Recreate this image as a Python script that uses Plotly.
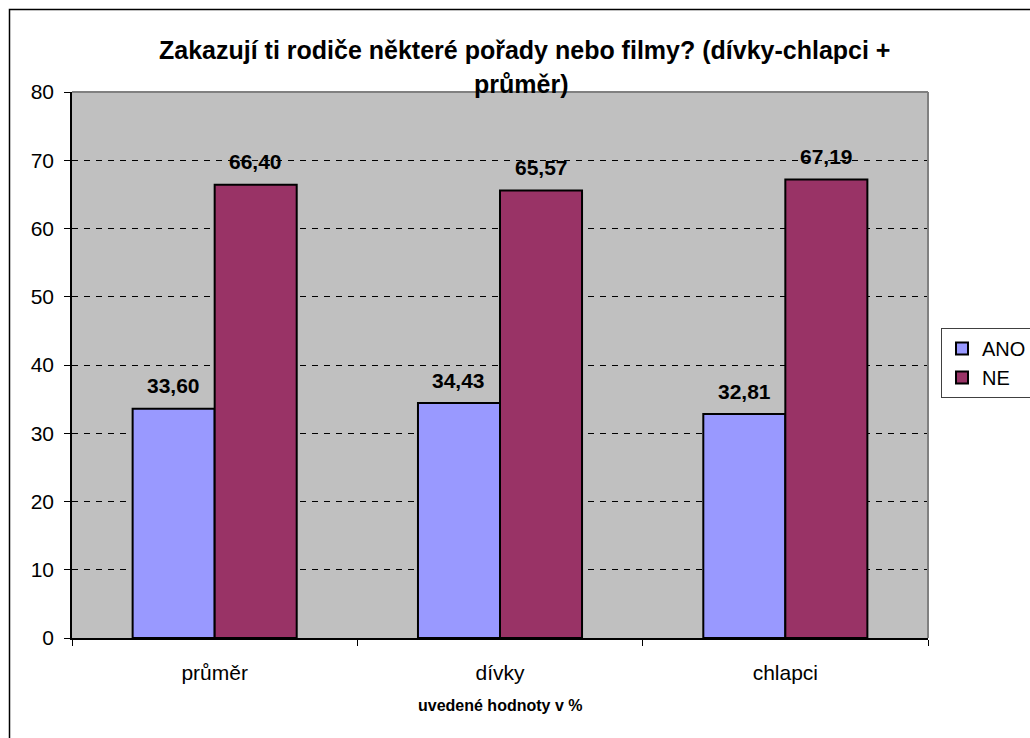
import plotly.graph_objects as go

categories = ["průměr", "dívky", "chlapci"]
ano_values = [33.60, 34.43, 32.81]
ne_values = [66.40, 65.57, 67.19]
series_names = ["ANO", "NE"]
y_ticks = [0, 10, 20, 30, 40, 50, 60, 70, 80]

title_line1 = "Zakazují ti rodiče některé pořady nebo filmy? (dívky-chlapci +"
title_line2 = "průměr)"
x_title = "uvedené hodnoty v %"

FONT = "Liberation Sans, Arial, sans-serif"
W, H = 1030, 738
L, R, T, B = 72, 102, 92, 100
pw, ph = W - L - R, H - T - B
BARGAP = 0.425

fig = go.Figure()
fig.add_trace(go.Bar(x=categories, y=ano_values, name=series_names[0],
                     marker=dict(color="#9999FF", line=dict(color="black", width=2))))
fig.add_trace(go.Bar(x=categories, y=ne_values, name=series_names[1],
                     marker=dict(color="#993366", line=dict(color="black", width=2))))

annotations = []
half = (1 - BARGAP) / 4
for i, trace_vals in enumerate([ano_values, ne_values]):
    for j, v in enumerate(trace_vals):
        annotations.append(dict(
            x=j + (-half if i == 0 else half), y=v, xref="x", yref="y",
            text=f"{v:.2f}".replace(".", ","), showarrow=False, yshift=23,
            font=dict(family=FONT, size=21, color="black", weight="bold")))

def px_to_paper_x(px):
    return (px - L) / pw

def px_to_paper_y(py):
    return (H - B - py) / ph

annotations.append(dict(xref="paper", yref="paper", x=px_to_paper_x(524), y=px_to_paper_y(50),
                        text=title_line1, showarrow=False, xanchor="center", yanchor="middle",
                        font=dict(family=FONT, size=25, color="black", weight="bold")))
annotations.append(dict(xref="paper", yref="paper", x=px_to_paper_x(521), y=px_to_paper_y(84),
                        text=title_line2, showarrow=False, xanchor="center", yanchor="middle",
                        font=dict(family=FONT, size=25, color="black", weight="bold")))
annotations.append(dict(xref="paper", yref="paper", x=px_to_paper_x(500), y=px_to_paper_y(705),
                        text=x_title, showarrow=False, xanchor="center", yanchor="middle",
                        font=dict(family=FONT, size=16, color="black", weight="bold")))

shapes = [
    dict(type="line", xref="paper", yref="paper", x0=0, x1=1, y0=1, y1=1,
         line=dict(color="#808080", width=2), layer="above"),
    dict(type="line", xref="paper", yref="paper", x0=1, x1=1, y0=0, y1=1,
         line=dict(color="#808080", width=2), layer="above"),
    dict(type="rect", xref="paper", yref="paper",
         x0=px_to_paper_x(9.5), y0=px_to_paper_y(800), x1=px_to_paper_x(1100), y1=px_to_paper_y(9.5),
         line=dict(color="black", width=1.5), layer="above"),
]

fig.update_layout(
    width=W, height=H,
    margin=dict(l=L, r=R, t=T, b=B, autoexpand=False),
    paper_bgcolor="white", plot_bgcolor="#C0C0C0",
    barmode="group", bargap=BARGAP, bargroupgap=0,
    font=dict(family=FONT, size=21, color="black"),
    showlegend=True,
    legend=dict(x=px_to_paper_x(941), y=px_to_paper_y(328), xanchor="left", yanchor="top",
                bgcolor="white", bordercolor="#404040", borderwidth=1,
                font=dict(family=FONT, size=20, color="black"),
                itemwidth=30, tracegroupgap=0),
    annotations=annotations, shapes=shapes,
)
fig.update_xaxes(showline=True, linecolor="black", linewidth=1.5, ticks="outside",
                 tickson="boundaries", ticklen=6, tickcolor="black", showgrid=False,
                 tickfont=dict(family=FONT, size=21), ticklabelstandoff=15)
fig.update_yaxes(range=[0, 80], tickvals=y_ticks, showline=True, linecolor="black", linewidth=1.5,
                 ticks="outside", ticklen=6, tickcolor="black",
                 showgrid=True, gridcolor="black", gridwidth=1, griddash="6px,6px",
                 zeroline=False, tickfont=dict(family=FONT, size=21), ticklabelstandoff=6)

fig.write_html("out.html", config={"displayModeBar": False},
               post_script="document.body.style.margin='0px';")
